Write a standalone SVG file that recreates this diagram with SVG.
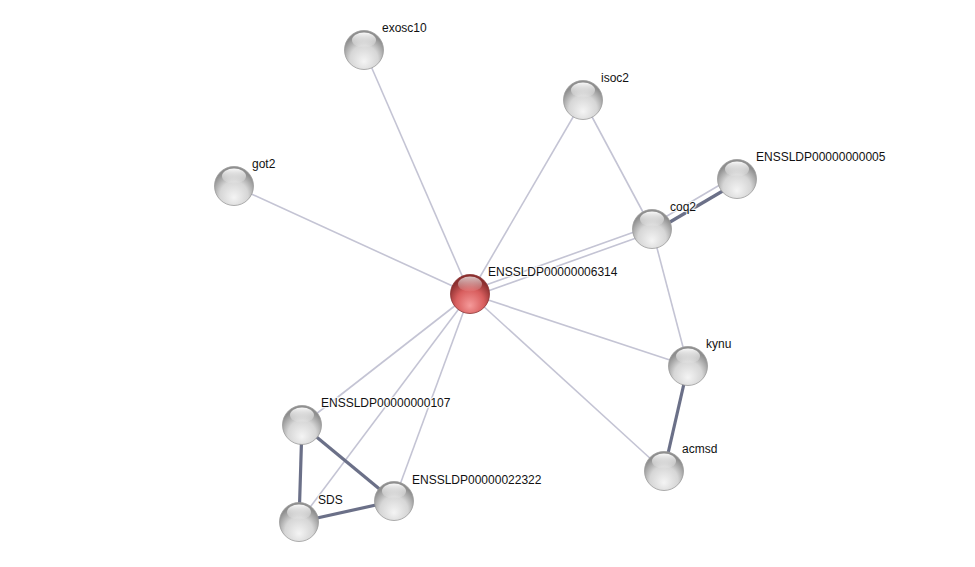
<svg xmlns="http://www.w3.org/2000/svg" width="975" height="567" viewBox="0 0 975 567">
<defs>
<radialGradient id="g" cx="50%" cy="70%" r="60%" fx="50%" fy="80%">
<stop offset="0" stop-color="#f4f4f4"/>
<stop offset="0.6" stop-color="#d6d6d6"/>
<stop offset="1" stop-color="#8e8e8e"/>
</radialGradient>
<radialGradient id="r" cx="50%" cy="70%" r="60%" fx="50%" fy="80%">
<stop offset="0" stop-color="#f59a9a"/>
<stop offset="0.6" stop-color="#d85e5e"/>
<stop offset="1" stop-color="#8a2e2e"/>
</radialGradient>
<linearGradient id="h" x1="0" y1="0" x2="0" y2="1">
<stop offset="0" stop-color="#fff" stop-opacity="0.95"/>
<stop offset="1" stop-color="#fff" stop-opacity="0.05"/>
</linearGradient>
<g id="sph">
<circle r="19.5" fill="url(#g)" stroke="#9a9a9a" stroke-width="0.8"/>
<ellipse cx="0" cy="-10" rx="12" ry="7.5" fill="url(#h)"/>
</g>
<g id="sphr">
<circle r="19.5" fill="url(#r)" stroke="#8a3030" stroke-width="0.8"/>
<ellipse cx="0" cy="-10" rx="12" ry="7.5" fill="url(#h)" opacity="0.75"/>
</g>
</defs>
<style>
.l{stroke:#c4c4d4;stroke-width:1.6;fill:none}
.t{stroke:#6b7088;stroke-width:3.2;fill:none}
text{font-family:"Liberation Sans",Arial,sans-serif;font-size:12px;fill:#111;paint-order:stroke;stroke:#fff;stroke-width:2.5px;stroke-opacity:0.8}
</style>
<rect width="975" height="567" fill="#fff"/>
<g id="edges">
<line class="l" x1="470" y1="294" x2="364" y2="50"/>
<line class="l" x1="470" y1="294" x2="583" y2="100"/>
<line class="l" x1="470" y1="294" x2="234" y2="186"/>
<line class="l" x1="469" y1="291" x2="651" y2="226"/>
<line class="l" x1="471" y1="297" x2="653" y2="232"/>
<line class="l" x1="583" y1="100" x2="652" y2="229"/>
<line class="t" x1="653" y1="232" x2="738" y2="182"/>
<line class="l" x1="650" y1="226" x2="735" y2="176"/>
<line class="l" x1="652" y1="229" x2="688" y2="366"/>
<line class="l" x1="470" y1="294" x2="688" y2="366"/>
<line class="l" x1="470" y1="294" x2="664" y2="471"/>
<line class="t" x1="688" y1="366" x2="664" y2="471"/>
<line class="l" x1="470" y1="294" x2="302" y2="425"/>
<line class="l" x1="470" y1="294" x2="299" y2="522"/>
<line class="l" x1="470" y1="294" x2="394" y2="501"/>
<line class="t" x1="302" y1="425" x2="299" y2="522"/>
<line class="t" x1="302" y1="425" x2="394" y2="501"/>
<line class="t" x1="299" y1="522" x2="394" y2="501"/>
</g>
<g id="n-exosc10"><use href="#sph" x="364" y="50"/><text x="382" y="32">exosc10</text></g>
<g id="n-isoc2"><use href="#sph" x="583" y="100"/><text x="601" y="82">isoc2</text></g>
<g id="n-got2"><use href="#sph" x="234" y="186"/><text x="252" y="168">got2</text></g>
<g id="n-ENSSLDP00000000005"><use href="#sph" x="737" y="179"/><text x="756" y="161">ENSSLDP00000000005</text></g>
<g id="n-coq2"><use href="#sph" x="652" y="229"/><text x="670" y="211">coq2</text></g>
<g id="n-kynu"><use href="#sph" x="688" y="366"/><text x="706" y="348">kynu</text></g>
<g id="n-acmsd"><use href="#sph" x="664" y="471"/><text x="682" y="453">acmsd</text></g>
<g id="n-ENSSLDP00000000107"><use href="#sph" x="302" y="425"/><text x="321" y="407">ENSSLDP00000000107</text></g>
<g id="n-SDS"><use href="#sph" x="299" y="522"/><text x="318" y="504">SDS</text></g>
<g id="n-ENSSLDP00000022322"><use href="#sph" x="394" y="501"/><text x="412" y="484">ENSSLDP00000022322</text></g>
<g id="n-ENSSLDP00000006314"><use href="#sphr" x="470" y="294"/><text x="488" y="276">ENSSLDP00000006314</text></g>
</svg>
